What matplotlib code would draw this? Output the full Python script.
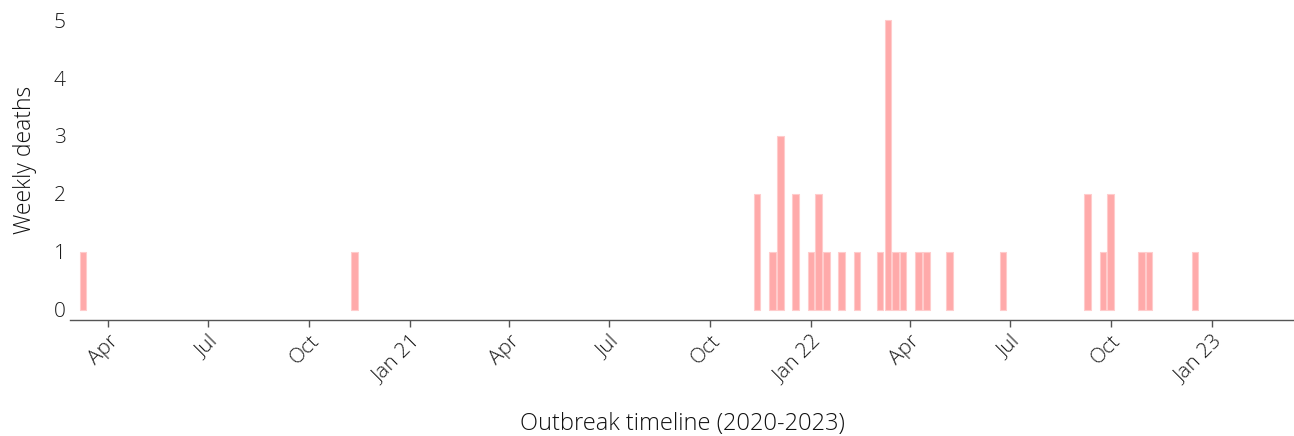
import numpy as np
import pandas as pd
import matplotlib
matplotlib.use("Agg")
import matplotlib.pyplot as plt
import matplotlib.dates as mdates

# weekly death counts (only non-zero weeks)
week_dates = ["2020-03-09", "2020-11-11",
              "2021-11-13", "2021-11-27", "2021-12-04", "2021-12-18",
              "2022-01-01", "2022-01-08", "2022-01-15", "2022-01-29",
              "2022-02-12", "2022-03-05", "2022-03-12", "2022-03-19",
              "2022-03-26", "2022-04-09", "2022-04-16", "2022-05-07",
              "2022-06-25", "2022-09-10", "2022-09-24", "2022-10-01",
              "2022-10-29", "2022-11-05", "2022-12-17"]
deaths = [1, 1,
          2, 1, 3, 2,
          1, 2, 1, 1,
          1, 1, 5, 1,
          1, 1, 1, 1,
          1, 2, 1, 2,
          1, 1, 1]

tick_dates = ["2020-04-01", "2020-07-01", "2020-10-01", "2021-01-01",
              "2021-04-01", "2021-07-01", "2021-10-01", "2022-01-01",
              "2022-04-01", "2022-07-01", "2022-10-01", "2023-01-01"]
tick_labels = ["Apr", "Jul", "Oct", "Jan 21", "Apr", "Jul", "Oct", "Jan 22",
               "Apr", "Jul", "Oct", "Jan 23"]

plt.rcParams['font.family'] = ['Open Sans', 'DejaVu Sans']

x = pd.to_datetime(week_dates)
fig = plt.figure(figsize=(12.94, 4.36), dpi=100)
ax = fig.add_axes([70/1294, 116/436, 1224/1294, 320/436])

ax.bar(x, deaths, width=6.0, color='#ffaaaa', edgecolor='#ffcccc', linewidth=0.8)

ax.set_xlim(pd.Timestamp("2020-02-26"), pd.Timestamp("2023-03-17"))
ax.set_ylim(-0.18, 5.35)

ax.set_xticks(pd.to_datetime(tick_dates))
ax.set_xticklabels(tick_labels, rotation=45, ha='right', rotation_mode='anchor',
                   fontsize=15, fontweight='light', color='#1a1a1a')
ax.set_yticks(range(6))
ax.set_yticklabels([str(v) for v in range(6)], fontsize=15, fontweight='light', color='#1a1a1a')
ax.tick_params(axis='y', length=0, pad=3)
ax.tick_params(axis='x', length=5, width=1, color='#555555', pad=3)

for s in ['top', 'right', 'left']:
    ax.spines[s].set_visible(False)
ax.spines['bottom'].set_color('#555555')
ax.spines['bottom'].set_linewidth(1)

ax.set_ylabel('Weekly deaths', fontsize=16.5, fontweight='light', color='#111111', labelpad=12)
ax.set_xlabel('Outbreak timeline (2020-2023)', fontsize=17, fontweight='light', color='#111111', va='center')
ax.xaxis.set_label_coords(0.5, -(424 - 320) / 320)

fig.savefig('out.png', dpi=100)
